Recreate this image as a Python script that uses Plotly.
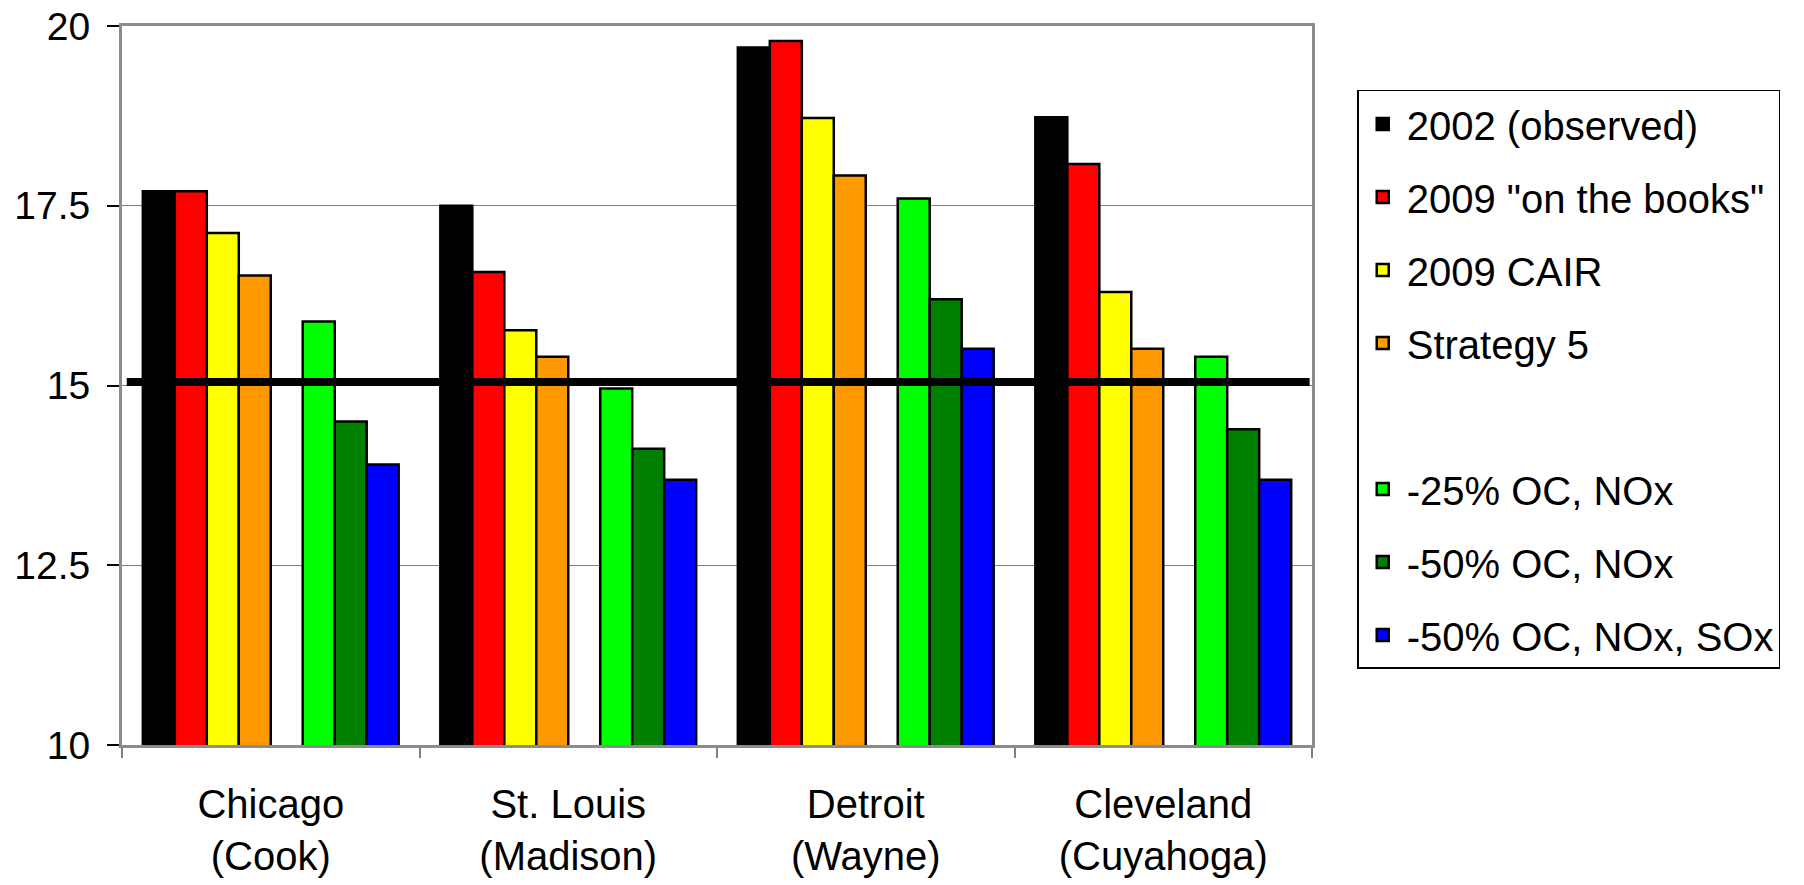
import plotly.graph_objects as go

# ---- data ----
CATEGORIES = ["Chicago<br>(Cook)", "St. Louis<br>(Madison)", "Detroit<br>(Wayne)", "Cleveland<br>(Cuyahoga)"]

OBS_2002 = [17.70, 17.50, 19.70, 18.73]
ON_BOOKS_2009 = [17.70, 16.58, 19.79, 18.08]
CAIR_2009 = [17.12, 15.77, 18.72, 16.30]
STRATEGY_5 = [16.53, 15.40, 17.92, 15.51]
BLANK = [None, None, None, None]
OC_NOX_25 = [15.89, 14.96, 17.60, 15.40]
OC_NOX_50 = [14.50, 14.12, 16.20, 14.39]
OC_NOX_SOX_50 = [13.90, 13.69, 15.51, 13.69]

SERIES_NAMES = ["2002 (observed)", "2009 \"on the books\"", "2009 CAIR", "Strategy 5", " ",
                "-25% OC, NOx", "-50% OC, NOx", "-50% OC, NOx, SOx"]
SERIES_VALUES = [OBS_2002, ON_BOOKS_2009, CAIR_2009, STRATEGY_5, BLANK,
                 OC_NOX_25, OC_NOX_50, OC_NOX_SOX_50]
SERIES_COLORS = ["#000000", "#FF0000", "#FFFF00", "#FF9900", "rgba(0,0,0,0)",
                 "#00FF00", "#008000", "#0000FF"]

STANDARD = 15.05
Y_TICKS = [10, 12.5, 15, 17.5, 20]
Y_TICK_TEXT = ["10", "12.5", "15", "17.5", "20"]

FONT = "Arial, Liberation Sans, sans-serif"

fig = go.Figure()
for i, (name, vals, col) in enumerate(zip(SERIES_NAMES, SERIES_VALUES, SERIES_COLORS)):
    blank = vals is BLANK
    fig.add_trace(go.Bar(
        x=CATEGORIES, y=vals, name=name,
        marker=dict(color=col, line=dict(color="rgba(0,0,0,0)" if blank else "#000000",
                                         width=0 if blank else 2.5)),
        legendgroup=f"g{i}",
        hoverinfo="skip" if blank else None,
    ))

fig.add_shape(type="line", xref="paper", yref="y", x0=0.004, x1=0.998,
              y0=STANDARD, y1=STANDARD, line=dict(color="#000000", width=8), layer="above")

fig.update_layout(
    width=1804, height=885,
    margin=dict(l=122, r=492, t=26, b=140, autoexpand=False),
    paper_bgcolor="white", plot_bgcolor="white",
    barmode="group", bargap=0.14, bargroupgap=0,
    font=dict(family=FONT, color="#000000", size=40),
    showlegend=True,
    legend=dict(
        x=1.038, xanchor="left", y=0.911, yanchor="top",
        font=dict(family=FONT, size=40, color="#000000"),
        bordercolor="#000000", borderwidth=1.5, bgcolor="white",
        traceorder="grouped", tracegroupgap=18, itemwidth=38,
        itemclick=False, itemdoubleclick=False,
    ),
)

fig.update_xaxes(
    type="category", tickson="boundaries", ticks="outside", ticklen=10,
    tickcolor="#808080", tickwidth=1.5, automargin=False,
    showline=True, linecolor="#8c8c8c", linewidth=3, mirror=True,
    showgrid=False, tickfont=dict(family=FONT, size=40, color="#000000"),
    ticklabelstandoff=22,
)
fig.update_yaxes(
    range=[10, 20], tickvals=Y_TICKS, ticktext=Y_TICK_TEXT, automargin=False,
    ticks="outside", ticklen=12, tickcolor="#000000", tickwidth=1.5,
    showline=True, linecolor="#8c8c8c", linewidth=3, mirror=True,
    showgrid=True, gridcolor="#808080", gridwidth=1, zeroline=False,
    tickfont=dict(family=FONT, size=39, color="#000000"),
    ticklabelstandoff=9, ticklabeloverflow="allow",
)

# remove the browser's default 8px body margin so the figure fills the window
fig.write_html("out.html", config={"displayModeBar": False},
               post_script="document.body.style.margin='0';")
